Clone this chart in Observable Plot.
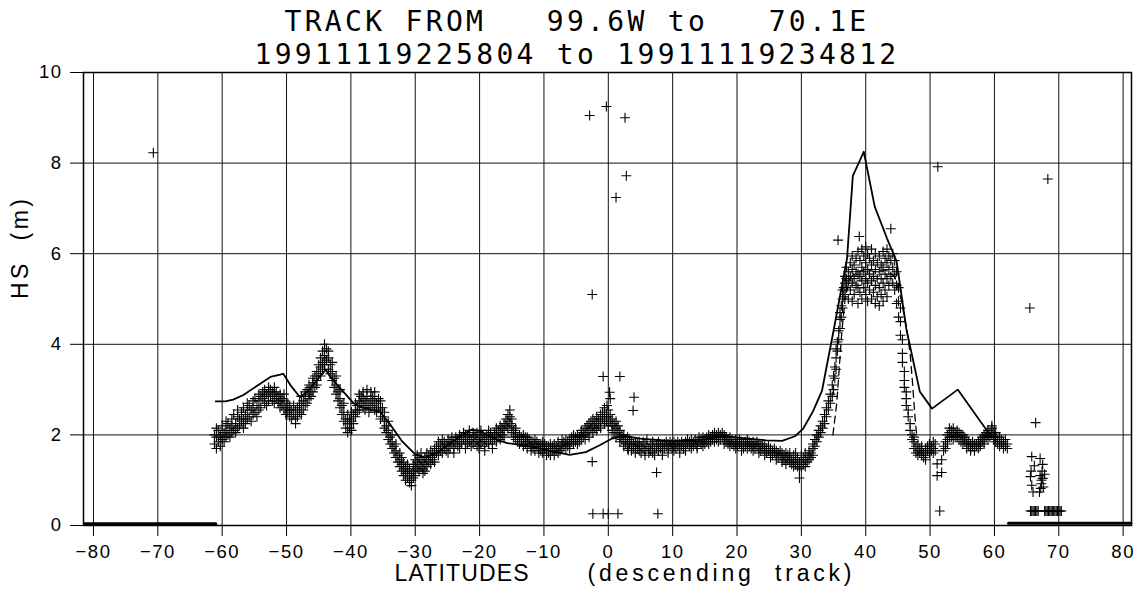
<!DOCTYPE html>
<html><head><meta charset="utf-8">
<script src="https://cdn.jsdelivr.net/npm/d3@7"></script>
<script src="https://cdn.jsdelivr.net/npm/@observablehq/plot@0.6"></script>
<style>
body{margin:0;background:#fff;width:1143px;height:596px;overflow:hidden;}
#title{position:relative;height:64px;width:1143px;color:#000;font-family:"DejaVu Sans Mono","Liberation Mono",monospace;}
#title .tl{position:absolute;left:0;width:1154px;text-align:center;font-size:28px;line-height:1;white-space:pre;}
#title .tl span{display:inline-block;}
#chart svg text{letter-spacing:1.5px;}
</style></head>
<body>
<div id="title">
  <div class="tl" style="top:8px"><span id="t1">TRACK FROM   99.6W to   70.1E</span></div>
  <div class="tl" style="top:41px"><span id="t2">19911119225804 to 19911119234812</span></div>
</div>
<div id="chart"></div>
<script>
// ---- axes ----
const xTicks = [-80,-70,-60,-50,-40,-30,-20,-10,0,10,20,30,40,50,60,70,80];
const yTicks = [0,2,4,6,8,10];
const yGrid = [2,4,6,8];

// ---- model (solid line): [lat, Hs] ----
const modelLine = [[-61.0,2.74],[-59.5,2.74],[-58.3,2.78],[-56.7,2.88],[-54.1,3.13],[-52.5,3.28],[-51.0,3.33],[-50.5,3.35],[-49.4,3.10],[-47.9,2.83],[-46.6,2.98],[-45.2,3.22],[-43.9,3.44],[-43.3,3.30],[-41.6,3.02],[-39.6,2.70],[-38.5,2.62],[-35.4,2.50],[-34.0,2.25],[-32.0,1.85],[-30.0,1.57],[-28.3,1.50],[-26.5,1.62],[-24.5,1.82],[-22.5,2.02],[-21.2,2.12],[-19.8,2.08],[-17.8,1.92],[-15.7,1.82],[-12.0,1.74],[-8.5,1.63],[-6.0,1.56],[-3.5,1.62],[-1.5,1.76],[0.6,1.92],[2.5,1.97],[5.0,1.92],[10.0,1.86],[15.0,1.90],[18.0,1.97],[21.0,1.93],[24.5,1.88],[27.0,1.87],[29.0,1.97],[30.3,2.14],[31.8,2.52],[33.2,2.97],[35.0,4.30],[37.1,5.90],[38.0,7.72],[39.7,8.25],[41.4,7.04],[43.3,6.34],[44.8,5.83],[46.3,4.35],[48.4,2.96],[50.3,2.58],[54.3,3.00],[57.8,2.30],[59.6,1.95]];

// ---- dashed line near the storm peak: [lat, Hs] ----
const dashedLine = [[34.9,2.0],[35.5,2.7],[35.9,3.5],[36.3,4.3],[36.8,5.0],[37.5,5.45],[38.5,5.6],[40.0,5.65],[41.5,5.6],[43.0,5.65],[44.5,5.5],[45.5,5.0],[46.3,4.4],[46.9,3.8],[47.3,3.1],[47.6,2.5],[47.9,2.0]];

// ---- altimeter "+" observations, rows of [lat, Hs, Hs, ...] ----
const obsSouth = [
[-61.2,1.80,2.00],[-60.9,1.95,1.70,2.15],[-60.6,1.85,2.10],[-60.3,1.75,2.00,1.95],[-60.0,1.90,2.20],[-59.7,2.05,1.85],[-59.4,2.10,1.95,2.30],[-59.1,2.00,2.25],[-58.8,2.15,1.95],[-58.5,2.35,2.05,2.20],[-58.2,2.10,2.45],[-57.9,2.25,2.05],[-57.6,2.40,2.15,2.55],[-57.3,2.20,2.35],[-57.0,2.50,2.30],[-56.7,2.35,2.60,2.15],[-56.4,2.45,2.25],[-56.1,2.55,2.35,2.70],[-55.8,2.40,2.65],[-55.5,2.30,2.55],[-55.2,2.60,2.75,2.45],[-54.9,2.50,2.80],[-54.6,2.65,2.40],[-54.3,2.75,2.90,2.55],[-54.0,2.60,2.85],[-53.7,2.80,2.95],[-53.4,2.70,3.00,2.85],[-53.1,2.90,2.65],[-52.8,2.95,2.75,3.05],[-52.5,2.85,3.00],[-52.2,2.75,2.95],[-51.9,2.90,3.05,2.70],[-51.6,2.80,2.95],[-51.3,2.70,2.85],[-51.0,2.75,2.60,2.90],[-50.7,2.65,2.80],[-50.4,2.55,2.75,2.90],[-50.1,2.60,2.45],[-49.8,2.70,2.50],[-49.5,2.40,2.65,2.55],[-49.2,2.55,2.35],[-48.9,2.45,2.65],[-48.6,2.35,2.55,2.25],[-48.3,2.60,2.40],[-48.0,2.50,2.70],[-47.7,2.65,2.45,2.85],[-47.4,2.75,2.55],[-47.1,2.85,2.65,2.95],[-46.8,2.70,3.00],[-46.5,2.90,3.10,2.80],[-46.2,3.05,2.85],[-45.9,3.15,2.95,3.25],[-45.6,3.05,3.30],[-45.3,3.20,3.40,3.10],[-45.0,3.35,3.55],[-44.7,3.50,3.30,3.70],[-44.4,3.60,3.85,3.45],[-44.1,3.75,4.00,3.55],[-43.8,3.90,3.65],[-43.5,3.70,3.45,3.85],[-43.2,3.55,3.35],[-42.9,3.40,3.20,3.60],[-42.6,3.25,3.05],[-42.3,3.10,2.90,3.30],[-42.0,2.95,2.75],[-41.7,2.80,2.60,3.00],[-41.4,2.65,2.45],[-41.1,2.50,2.30,2.70],[-40.8,2.35,2.15],[-40.5,2.25,2.05,2.45],[-40.2,2.15,2.35]];
const obsMid = [
[-39.9,2.30,2.10,2.50],[-39.6,2.45,2.25],[-39.3,2.55,2.40,2.70],[-39.0,2.65,2.50],[-38.7,2.75,2.55,2.90],[-38.4,2.70,2.85],[-38.1,2.60,2.80,2.95],[-37.8,2.75,2.55],[-37.5,2.85,2.65,3.00],[-37.2,2.70,2.50],[-36.9,2.80,2.60,2.95],[-36.6,2.65,2.85],[-36.3,2.55,2.75,2.95],[-36.0,2.70,2.50],[-35.7,2.60,2.80],[-35.4,2.55,2.35,2.75],[-35.1,2.40,2.60],[-34.8,2.30,2.50,2.15],[-34.5,2.20,2.05],[-34.2,2.10,1.90,2.30],[-33.9,1.95,1.80],[-33.6,1.85,1.70,2.00],[-33.3,1.75,1.60],[-33.0,1.65,1.50,1.80],[-32.7,1.55,1.40],[-32.4,1.45,1.30,1.60],[-32.1,1.35,1.20,1.50],[-31.8,1.25,1.40,1.10],[-31.5,1.15,1.30,1.00],[-31.2,1.05,1.20,1.35],[-30.9,1.10,0.95,1.25],[-30.6,1.00,1.15,0.88],[-30.3,1.20,1.05,1.35],[-30.0,1.10,1.30,1.45],[-29.7,1.25,1.40,1.55],[-29.4,1.35,1.20,1.50],[-29.1,1.45,1.30,1.60],[-28.8,1.25,1.40,1.15],[-28.5,1.35,1.50,1.20],[-28.2,1.45,1.30,1.60],[-27.9,1.40,1.55],[-27.6,1.50,1.35,1.65],[-27.3,1.45,1.60],[-27.0,1.55,1.70,1.40],[-26.7,1.60,1.75],[-26.4,1.70,1.55,1.85],[-26.1,1.65,1.80],[-25.8,1.75,1.60,1.90],[-25.5,1.70,1.85],[-25.2,1.80,1.65],[-24.9,1.75,1.90,1.60],[-24.6,1.85,1.70],[-24.3,1.80,1.95],[-24.0,1.70,1.85,1.60],[-23.7,1.80,1.95],[-23.4,1.90,1.75],[-23.1,1.85,2.00,1.70],[-22.8,1.95,1.80],[-22.5,1.90,2.05],[-22.2,1.85,1.70,2.00],[-21.9,1.95,1.80],[-21.6,2.00,1.85,2.10],[-21.3,1.90,1.75],[-21.0,1.95,2.05,1.80],[-20.7,1.85,2.00],[-20.4,1.75,1.90,2.05],[-20.1,1.85,1.70],[-19.8,1.95,1.80,2.10],[-19.5,1.85,2.00],[-19.2,1.75,1.90,1.65],[-18.9,1.85,2.00],[-18.6,1.95,1.80,2.10],[-18.3,1.90,2.05],[-18.0,1.80,1.95,1.70],[-17.7,1.90,2.05],[-17.4,2.00,1.85,2.15],[-17.1,1.95,2.10],[-16.8,2.05,1.90,2.20],[-16.5,2.15,2.00],[-16.2,2.10,2.25,1.95],[-15.9,2.20,2.35],[-15.6,2.30,2.45,2.15],[-15.3,2.40,2.55,2.25],[-15.0,2.20,2.35,2.05]];
const obsEquator = [
[-14.7,2.10,1.95],[-14.4,2.05,1.90,2.15],[-14.1,1.95,1.85],[-13.8,2.00,1.80,1.90],[-13.5,1.85,1.95],[-13.2,1.90,1.75,2.00],[-12.9,1.80,1.95],[-12.6,1.85,1.70,1.95],[-12.3,1.80,1.90],[-12.0,1.75,1.85,1.65],[-11.7,1.85,1.70],[-11.4,1.80,1.90,1.65],[-11.1,1.75,1.85],[-10.8,1.70,1.80,1.60],[-10.5,1.80,1.65],[-10.2,1.75,1.85,1.60],[-9.9,1.70,1.80],[-9.6,1.65,1.75,1.55],[-9.3,1.75,1.60],[-9.0,1.70,1.80,1.55],[-8.7,1.65,1.75],[-8.4,1.70,1.55,1.80],[-8.1,1.65,1.75],[-7.8,1.70,1.60,1.85],[-7.5,1.75,1.65],[-7.2,1.80,1.70,1.90],[-6.9,1.75,1.85],[-6.6,1.80,1.70,1.90],[-6.3,1.85,1.75],[-6.0,1.80,1.90,1.70],[-5.7,1.85,1.95],[-5.4,1.90,1.80,2.00],[-5.1,1.85,1.95],[-4.8,1.90,2.00,1.80],[-4.5,1.95,1.85],[-4.2,2.00,1.90,2.10],[-3.9,1.95,2.05],[-3.6,2.00,2.15,1.90],[-3.3,2.05,2.20],[-3.0,2.10,1.95,2.25],[-2.7,2.15,2.30],[-2.4,2.05,2.20,2.35],[-2.1,2.15,2.30],[-1.8,2.25,2.10,2.40],[-1.5,2.20,2.35],[-1.2,2.30,2.45,2.15],[-0.9,2.35,2.50],[-0.6,2.25,2.40,2.60],[-0.3,2.45,2.30],[0.0,2.40,2.55,2.20],[0.3,2.30,2.45],[0.6,2.20,2.35,2.10],[0.9,2.25,2.05],[1.2,2.15,1.95,2.30],[1.5,2.05,2.20],[1.8,1.95,2.10,1.85],[2.1,2.00,1.90],[2.4,1.85,2.00,1.75],[2.7,1.90,1.80],[3.0,1.85,1.70,1.95],[3.3,1.80,1.90],[3.6,1.75,1.85,1.65]];
const obsNorth = [
[3.9,1.80,1.70],[4.2,1.75,1.85,1.60],[4.5,1.70,1.80],[4.8,1.65,1.75,1.85],[5.1,1.75,1.60],[5.4,1.70,1.85],[5.7,1.80,1.65,1.55],[6.0,1.75,1.90],[6.3,1.70,1.60],[6.6,1.80,1.65],[6.9,1.75,1.85,1.60],[7.2,1.70,1.55],[7.5,1.80,1.70],[7.8,1.75,1.65,1.85],[8.1,1.70,1.80],[8.4,1.65,1.75,1.55],[8.7,1.80,1.70],[9.0,1.75,1.85],[9.3,1.70,1.60,1.80],[9.6,1.75,1.85],[9.9,1.80,1.70],[10.2,1.75,1.85,1.65],[10.5,1.80,1.70],[10.8,1.85,1.75],[11.1,1.70,1.80,1.60],[11.4,1.75,1.85],[11.7,1.80,1.70],[12.0,1.85,1.75,1.65],[12.3,1.80,1.90],[12.6,1.75,1.85],[12.9,1.80,1.70,1.90],[13.2,1.85,1.75],[13.5,1.80,1.90],[13.8,1.75,1.85,1.70],[14.1,1.85,1.95],[14.4,1.80,1.90],[14.7,1.85,1.75,1.95],[15.0,1.90,1.80],[15.3,1.85,1.95],[15.6,1.90,1.80,2.00],[15.9,1.85,1.95],[16.2,1.90,2.00],[16.5,1.95,1.85,2.05],[16.8,2.00,1.90],[17.1,1.95,2.05,1.85],[17.4,2.00,1.90],[17.7,1.95,2.05],[18.0,1.90,1.80,2.00],[18.3,1.85,1.95],[18.6,1.90,1.80],[18.9,1.85,1.95,1.75],[19.2,1.80,1.90],[19.5,1.85,1.75],[19.8,1.80,1.90,1.70],[20.1,1.85,1.75],[20.4,1.80,1.90],[20.7,1.75,1.85,1.65],[21.0,1.80,1.70],[21.3,1.85,1.75],[21.6,1.80,1.70,1.90],[21.9,1.75,1.85],[22.2,1.80,1.70],[22.5,1.75,1.85,1.65],[22.8,1.80,1.70],[23.1,1.75,1.85],[23.4,1.70,1.80,1.60],[23.7,1.75,1.65],[24.0,1.80,1.70],[24.3,1.65,1.75,1.55],[24.6,1.70,1.60],[24.9,1.75,1.65],[25.2,1.60,1.70,1.50],[25.5,1.65,1.55],[25.8,1.70,1.60],[26.1,1.55,1.65,1.45],[26.4,1.60,1.50],[26.7,1.55,1.65],[27.0,1.50,1.60,1.40],[27.3,1.55,1.45],[27.6,1.60,1.50,1.35],[27.9,1.45,1.55],[28.2,1.50,1.40,1.60],[28.5,1.45,1.35],[28.8,1.55,1.40,1.30],[29.1,1.45,1.35,1.60],[29.4,1.50,1.30],[29.7,1.40,1.25,1.05],[30.0,1.45,1.30,1.55],[30.3,1.35,1.50],[30.6,1.45,1.30,1.60],[30.9,1.50,1.40],[31.2,1.55,1.45,1.65],[31.5,1.60,1.50],[31.8,1.70,1.55,1.80],[32.1,1.75,1.90],[32.4,1.85,2.00],[32.7,1.95,2.10],[33.0,2.05,2.20],[33.3,2.15,2.30],[33.6,2.25,2.45],[33.9,2.40,2.60]];
const obsPeak = [
[34.2,2.55,2.75],[34.5,2.70,2.90],[34.8,2.85,3.10],[35.0,3.00,3.30],[35.2,3.25,3.50],[35.4,3.45,3.70,3.90],[35.6,3.85,4.05],[35.8,4.10,4.30],[36.0,4.35,4.55,4.70],[36.2,4.60,4.85],[36.4,4.80,5.00,5.20],[36.6,5.05,5.25],[36.8,5.10,5.35,5.50],[37.0,5.25,5.45,5.70],[37.3,5.00,5.40,5.60],[37.6,5.20,5.50,5.80],[37.9,4.95,5.35,5.65,5.95],[38.2,5.10,5.45,5.75],[38.5,5.30,5.60,5.90],[38.8,4.90,5.25,5.55,6.05],[39.1,5.15,5.50,5.85],[39.4,5.00,5.40,5.70,6.10],[39.7,5.25,5.60,5.95],[40.0,5.10,5.45,5.80,6.15],[40.3,4.95,5.35,5.65,6.00],[40.6,5.20,5.55,5.90],[40.9,5.00,5.40,5.75,6.10],[41.2,5.15,5.50,5.85],[41.5,4.90,5.30,5.65,6.00],[41.8,5.05,5.45,5.80],[42.1,4.85,5.25,5.60,5.95],[42.4,5.10,5.45,5.75],[42.7,4.95,5.35,5.70,6.05],[43.0,5.20,5.55,5.90],[43.3,5.05,5.45,5.80,6.10],[43.6,5.30,5.65,5.95],[43.9,5.50,5.85],[44.2,5.35,5.70,6.00],[44.5,5.20,5.55,5.85],[44.8,4.90,5.30,5.60],[45.1,4.60,4.95,5.25],[45.4,4.20,4.50,4.80],[45.7,3.80,4.10,3.60],[46.0,3.40,3.20,3.05],[46.3,2.95,2.80,2.65],[46.6,2.55,2.40],[46.9,2.25,2.10],[47.2,2.00,1.90]];
const obsTail = [
[47.5,1.85,1.70,1.95],[47.8,1.75,1.60],[48.1,1.65,1.80,1.55],[48.4,1.70,1.60],[48.7,1.55,1.75,1.65],[49.0,1.60,1.50],[49.3,1.70,1.55,1.45],[49.6,1.65,1.75],[49.9,1.60,1.70,1.80],[50.2,1.75,1.65],[50.5,1.70,1.85,1.60],[50.8,1.80,1.65],[51.1,1.36,1.10],[51.8,1.17,1.45],[52.1,1.65,1.75],[52.4,1.70,1.85],[52.7,1.90,2.00,1.80],[53.0,2.05,1.95,2.15],[53.3,2.10,1.95],[53.6,2.00,2.15,1.90],[53.9,2.05,1.95],[54.2,2.10,1.95,2.00],[54.5,1.90,2.05],[54.8,2.00,1.85],[55.1,1.90,2.00,1.80],[55.4,1.85,1.95],[55.7,1.80,1.90,1.70],[56.0,1.75,1.85],[56.3,1.80,1.70,1.65],[56.6,1.75,1.85],[56.9,1.70,1.80,1.65],[57.2,1.80,1.75],[57.5,1.85,1.70],[57.8,1.90,1.80,1.75],[58.1,1.85,1.95],[58.4,1.90,2.00,1.80],[58.7,1.95,2.05],[59.0,2.00,1.90,2.10],[59.3,2.05,1.95],[59.6,2.15,2.00,2.20],[59.9,2.05,1.90],[60.2,1.95,2.05,1.85],[60.5,1.90,1.80],[60.8,1.85,1.95,1.75],[61.1,1.80,1.90],[61.4,1.85,1.70],[61.7,1.75,1.90],[62.0,1.80,1.70]];
const obsIce = [
[65.8,1.52],[67.1,1.48],[67.5,1.35],[66.2,1.32],[65.7,1.20],[65.6,1.08],[65.8,0.89],[66.0,0.74],[67.0,0.74],[67.3,0.92],[67.5,1.04],[67.4,1.20],[67.8,1.13],[67.3,1.00],[67.1,1.10],[67.6,0.85],[67.2,0.82],
[65.6,0.32],[65.8,0.32],[66.0,0.32],[66.2,0.32],[66.4,0.32],[66.6,0.32],[66.8,0.32],[67.8,0.32],[68.0,0.32],[68.2,0.32],[68.4,0.32],[68.6,0.32],[68.8,0.32],[69.0,0.32],[69.2,0.32],[69.4,0.32],[69.6,0.32],[69.8,0.32],[70.0,0.32],[70.2,0.32],[70.4,0.32]];
const outliers = [[-70.7,8.23],[-2.9,9.05],[-0.3,9.25],[2.6,9.0],[2.8,7.72],[1.2,7.24],[-2.5,5.1],[-0.8,3.29],[1.8,3.29],[0.2,2.94],[4.0,2.83],[3.85,2.54],[0.3,2.8],[-0.2,2.65],[-2.5,1.41],[3.1,1.66],[7.5,1.17],[-2.4,0.26],[-0.8,0.26],[0.0,0.26],[1.5,0.26],[7.7,0.26],[35.7,6.30],[39.0,6.38],[43.9,6.55],[51.2,7.92],[51.5,0.32],[65.5,4.80],[68.3,7.65],[66.4,2.27]];

// near-zero flagged data (land / ice), drawn as heavy strips on the axis
const zeroSouth = [[-81.4,0.04],[-61.0,0.04]];
const zeroNorth = [[62.2,0.05],[81.2,0.05]];

const rowsToPoints = rows => rows.flatMap(([lat, ...hs]) => hs.map(h => ({lat, hs: h})));
const points = [obsSouth, obsMid, obsEquator, obsNorth, obsPeak, obsTail, obsIce, outliers].flatMap(rowsToPoints);

const chart = Plot.plot({
  width: 1143, height: 532,
  marginTop: 8, marginBottom: 71, marginLeft: 83, marginRight: 12,
  style: {fontFamily: "'Liberation Sans', Arial, sans-serif", fontSize: "18.5px", background: "white", color: "black", overflow: "visible"},
  x: {domain: [-81.55, 81.3]},
  y: {domain: [0, 10]},
  marks: [
    Plot.ruleX(xTicks, {stroke: "#111", strokeWidth: 1}),
    Plot.ruleY(yGrid, {stroke: "#111", strokeWidth: 1}),
    Plot.frame({stroke: "black", strokeWidth: 1.5}),
    Plot.line(zeroSouth, {x: d => d[0], y: d => d[1], stroke: "black", strokeWidth: 3}),
    Plot.line(zeroNorth, {x: d => d[0], y: d => d[1], stroke: "black", strokeWidth: 3}),
    Plot.dot(points, {x: "lat", y: "hs", symbol: "plus", r: 3.3, stroke: "black", strokeWidth: 1.1, fill: "none"}),
    Plot.line(dashedLine, {x: d => d[0], y: d => d[1], stroke: "black", strokeWidth: 1.3, strokeDasharray: "7,5"}),
    Plot.line(modelLine, {x: d => d[0], y: d => d[1], stroke: "black", strokeWidth: 1.8}),
    Plot.axisY({ticks: yTicks, tickSize: 13, tickPadding: 8, label: null, tickFormat: d => String(d)}),
    Plot.axisX({ticks: xTicks, tickSize: 11, tickPadding: 8, label: null}),
    Plot.text(["HS\u00a0\u00a0(m)"], {frameAnchor: "left", dx: -63, rotate: -90, fontSize: 23}),
    Plot.text(["LATITUDES"], {frameAnchor: "bottom", dx: -146, dy: 55, fontSize: 23}),
    Plot.text(["(descending\u00a0\u00a0track)"], {frameAnchor: "bottom", dx: 112, dy: 55, fontSize: 23})
  ]
});
document.getElementById("chart").appendChild(chart);

// stretch label texts to the widths seen in the reference
const widths = {"LATITUDES": 134, "HS\u00a0\u00a0(m)": 100, "(descending\u00a0\u00a0track)": 264};
chart.querySelectorAll("text").forEach(t => {
  const w = widths[t.textContent];
  if (w) { t.setAttribute("textLength", w); t.setAttribute("lengthAdjust", "spacing"); t.style.letterSpacing = "0px"; }
});
// title: monospaced pitch fitted to reference widths
function fit(id, target) {
  const el = document.getElementById(id);
  el.style.letterSpacing = "0px";
  const w = el.getBoundingClientRect().width;
  el.style.letterSpacing = ((target - w) / el.textContent.length) + "px";
}
fit("t1", 585);
fit("t2", 645);
</script>
</body></html>
